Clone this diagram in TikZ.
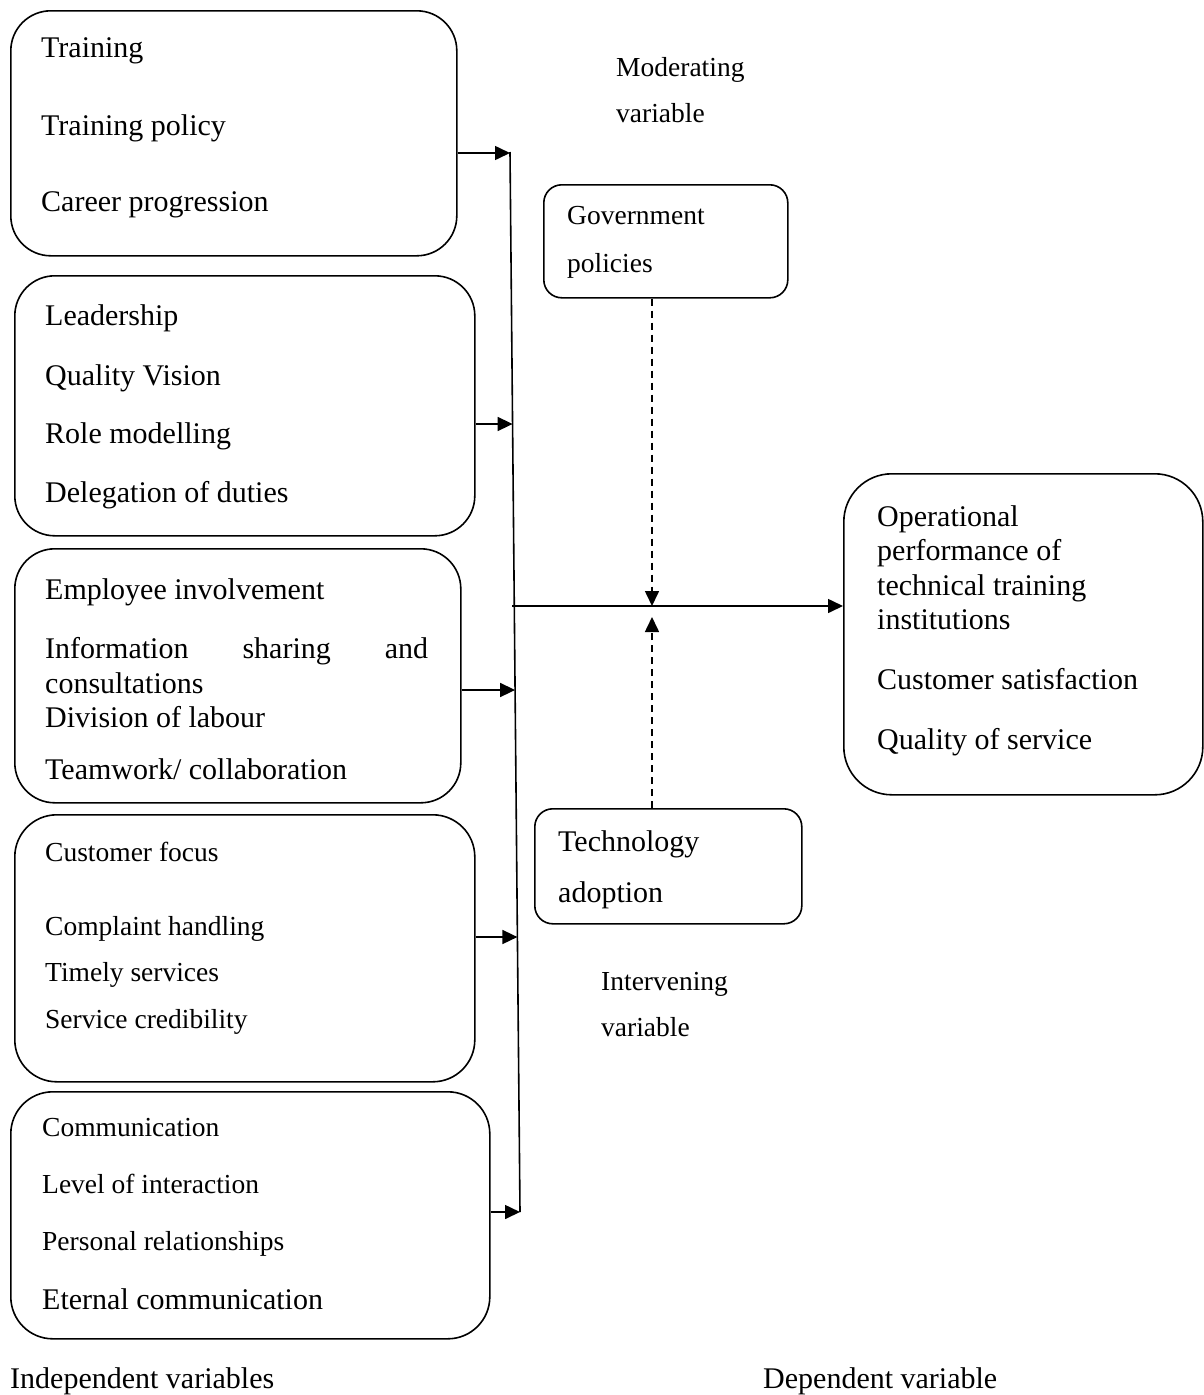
\documentclass[tikz,border=0pt]{standalone}
\usepackage{fontspec}
\setmainfont{Liberation Serif}
\usetikzlibrary{arrows.meta}
\tikzset{
    frame/.style={draw,line width=1.6pt,rounded corners=#1,anchor=north west,inner sep=0pt},
    frame/.default=40pt,
    big/.style={anchor=base west,inner sep=0pt,font={\fontsize{30}{36}\selectfont}},
    small/.style={anchor=base west,inner sep=0pt,font={\fontsize{27.5}{33}\selectfont}},
    link/.style={line width=1.6pt,-{Triangle[length=15pt,width=14pt]}},
    dashlink/.style={link,dash pattern=on 7pt off 5pt},
}
% #1 name, #2 x, #3 y, #4 width, #5 height, #6 corner radius
\newcommand{\frameat}[6]{
    \node[frame=#6,minimum width=#4pt,minimum height=#5pt] (#1) at (#2,#3) {};
}

\begin{document}
\begin{tikzpicture}[x=1pt,y=-1pt]
    \useasboundingbox (0,0) rectangle (1204,1395);

    % frames
    \frameat{train}{10}{10}{446}{245}{40pt}
    \frameat{lead}{14}{275}{460}{260}{40pt}
    \frameat{invol}{14}{548}{446}{254}{40pt}
    \frameat{focus}{14}{814}{460}{267}{42pt}
    \frameat{comm}{10}{1091}{479}{247}{42pt}
    \frameat{gov}{543}{184}{244}{113}{18pt}
    \frameat{tech}{534}{808}{267}{115}{18pt}
    \frameat{dep}{843}{473}{359}{321}{48pt}

    % independent variables
    \node[big] (t1) at (41,57) {Training};
    \node[big] (t2) at (41,135) {Training policy};
    \node[big] (t3) at (41,211) {Career progression};

    \node[big] (l1) at (45,325) {Leadership};
    \node[big] (l2) at (45,385) {Quality Vision};
    \node[big] (l3) at (45,443) {Role modelling};
    \node[big] (l4) at (45,502) {Delegation of duties};

    \node[big] (e1) at (45,599) {Employee involvement};
    \node[big] (e2) at (45,658) {\hbox to 383pt{Information\hfill sharing\hfill and}};
    \node[big] (e3) at (45,693) {consultations};
    \node[big] (e4) at (45,727) {Division of labour};
    \node[big] (e5) at (45,779) {Teamwork/ collaboration};

    \node[small] (f1) at (45,861) {Customer focus};
    \node[small] (f2) at (45,935) {Complaint handling};
    \node[small] (f3) at (45,981) {Timely services};
    \node[small] (f4) at (45,1028) {Service credibility};

    \node[small] (c1) at (42,1136) {Communication};
    \node[small] (c2) at (42,1193) {Level of interaction};
    \node[small] (c3) at (42,1250) {Personal relationships};
    \node[big] (c4) at (42,1309) {Eternal communication};

    % moderating and intervening
    \node[small] (m1) at (616,76) {Moderating};
    \node[small] (m2) at (616,122) {variable};
    \node[small] (g1) at (567,224) {Government};
    \node[small] (g2) at (567,272) {policies};
    \node[big] (a1) at (558,851) {Technology};
    \node[big] (a2) at (558,902) {adoption};
    \node[small] (i1) at (601,990) {Intervening};
    \node[small] (i2) at (601,1036) {variable};

    % dependent variable
    \node[big] (d1) at (877,526) {Operational};
    \node[big] (d2) at (877,560) {performance of};
    \node[big] (d3) at (877,595) {technical training};
    \node[big] (d4) at (877,629) {institutions};
    \node[big] (d5) at (877,689) {Customer satisfaction};
    \node[big] (d6) at (877,749) {Quality of service};

    \node[big] (indep) at (10,1388) {Independent variables};
    \node[big] (depen) at (763,1388) {Dependent variable};

    % connectors
    \coordinate (top) at (510,152);
    \coordinate (bot) at (520,1212);
    \coordinate (j1) at (510,153);
    \coordinate (j2) at (512.6,424);
    \coordinate (j3) at (515.1,690);
    \coordinate (j4) at (517.4,937);
    \coordinate (hub) at (512,606);
    \coordinate (meet) at (652,606);
    \coordinate (meet2) at (652,617);

    \draw[line width=1.6pt] (top) -- (bot);
    \draw[link] (train.east |- j1) -- (j1);
    \draw[link] (lead.east |- j2) -- (j2);
    \draw[link] (invol.east |- j3) -- (j3);
    \draw[link] (focus.east |- j4) -- (j4);
    \draw[link] (comm.east |- bot) -- (bot);
    \draw[link] (hub) -- (dep.west |- hub);
    \draw[dashlink] (meet |- gov.south) -- (meet);
    \draw[dashlink] (meet2 |- tech.north) -- (meet2);
\end{tikzpicture}
\end{document}
